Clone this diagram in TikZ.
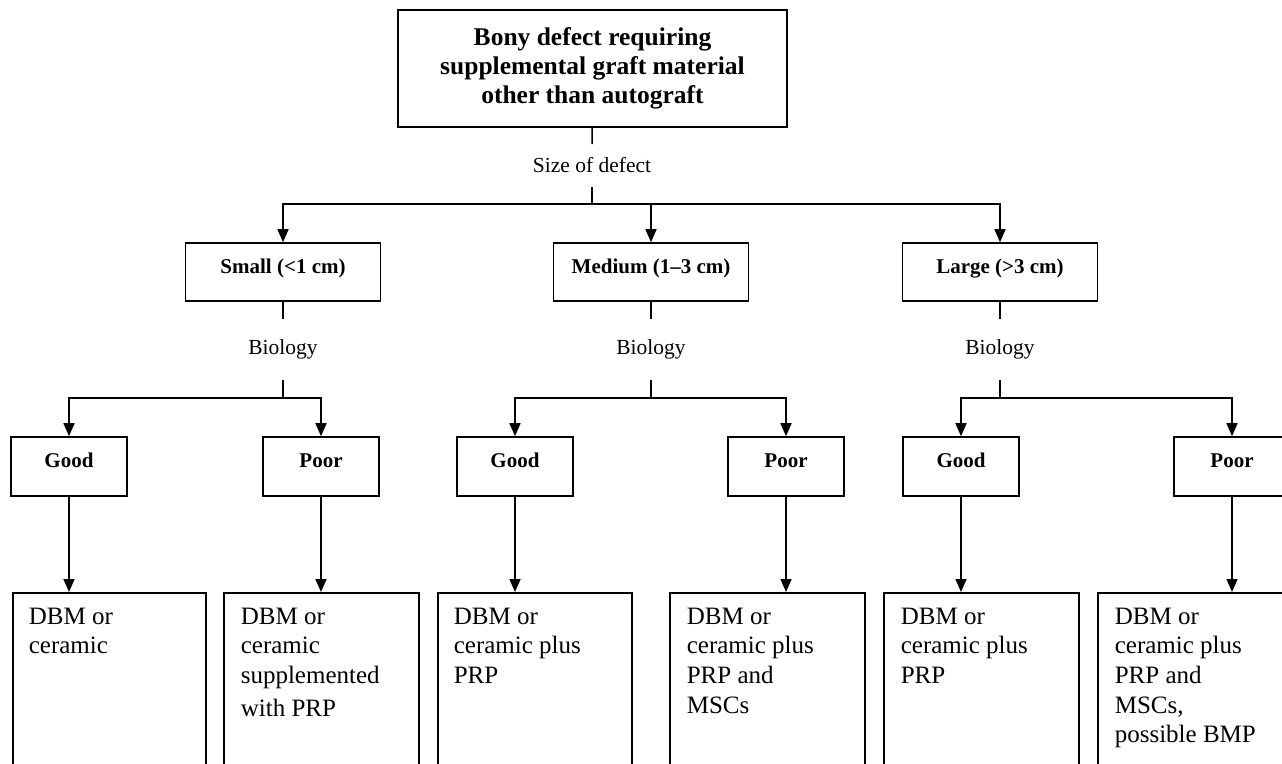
\documentclass[tikz,border=0pt]{standalone}
\usepackage{fontspec}
\setmainfont{Liberation Serif}
\usetikzlibrary{arrows.meta}
\begin{document}
\begin{tikzpicture}[x=1pt,y=-1pt,line width=1.6pt,
  box/.style={draw,line width=1.6pt,inner sep=0pt},
  sizebox/.style={box,minimum width=195pt,text height=30pt,text depth=28pt,font=\fontsize{21}{25}\selectfont\bfseries},
  bioboxst/.style={box,minimum width=116pt,text height=30pt,text depth=29pt,font=\fontsize{21}{25}\selectfont\bfseries},
  lbl/.style={inner sep=0pt,font=\fontsize{21.5}{25}\selectfont},
  resbox/.style={box,anchor=north west,minimum height=185pt},
  restext/.style={inner sep=0pt,anchor=north west,align=left,font=\fontsize{25}{29.7}\selectfont},
  arr/.style={-{Triangle[length=13pt,width=11pt]}}]
\useasboundingbox (0,0) rectangle (1282,763);
\fill[white] (0,0) rectangle (1282,763);
% top
\node[box,minimum width=389pt,minimum height=117pt,align=center,font=\fontsize{25.5}{29}\selectfont\bfseries] (top) at (592.5,68.5) {Bony defect requiring\\supplemental graft material\\other than autograft};
\node[lbl,minimum height=41pt] (size) at (592,165.5) {Size of defect};
\coordinate (j0) at (592,204);
% size boxes
\node[sizebox] (small) at (283,272) {Small (<1 cm)};
\node[sizebox] (medium) at (651,272) {Medium (1\textendash 3 cm)};
\node[sizebox] (large) at (1000,272) {Large (>3 cm)};
% biology labels
\node[lbl,minimum height=59pt] (bio1) at (283,349.5) {Biology};
\node[lbl,minimum height=59pt] (bio2) at (651,349.5) {Biology};
\node[lbl,minimum height=59pt] (bio3) at (1000,349.5) {Biology};
\coordinate (j1) at (283,398);
\coordinate (j2) at (651,398);
\coordinate (j3) at (1000,398);
% good / poor
\node[bioboxst] (g1) at (69,466.5) {Good};
\node[bioboxst] (p1) at (321,466.5) {Poor};
\node[bioboxst] (g2) at (515,466.5) {Good};
\node[bioboxst] (p2) at (786,466.5) {Poor};
\node[bioboxst] (g3) at (961,466.5) {Good};
\node[bioboxst] (p3) at (1232,466.5) {Poor};
% result boxes
\node[resbox,minimum width=193pt] (r1) at (12,592) {};
\node[resbox,minimum width=195pt] (r2) at (223,592) {};
\node[resbox,minimum width=194pt] (r3) at (437,592) {};
\node[resbox,minimum width=195pt] (r4) at (669,592) {};
\node[resbox,minimum width=195pt] (r5) at (883,592) {};
\node[resbox,minimum width=195pt] (r6) at (1097,592) {};
\node[restext] (t1) at (28,607) {DBM or\\ ceramic};
\node[restext] (t2) at (240,607) {DBM or\\ ceramic\\supplemented\\[3pt]with PRP};
\node[restext] (t3) at (453,607) {DBM or\\ ceramic plus\\PRP};
\node[restext] (t4) at (686,607) {DBM or\\ ceramic plus\\PRP and\\ MSCs};
\node[restext] (t5) at (900,607) {DBM or\\ ceramic plus\\PRP};
\node[restext] (t6) at (1114,607) {DBM or\\ ceramic plus\\PRP and\\ MSCs,\\possible BMP};
% connectors
\draw (top) -- (size);
\draw (size) -- (j0);
\draw[arr] (j0) -| (small);
\draw[arr] (j0) -| (medium);
\draw[arr] (j0) -| (large);
\draw (small) -- (bio1);
\draw (medium) -- (bio2);
\draw (large) -- (bio3);
\draw (bio1) -- (j1);
\draw (bio2) -- (j2);
\draw (bio3) -- (j3);
\draw[arr] (j1) -| (g1);
\draw[arr] (j1) -| (p1);
\draw[arr] (j2) -| (g2);
\draw[arr] (j2) -| (p2);
\draw[arr] (j3) -| (g3);
\draw[arr] (j3) -| (p3);
\draw[arr] (g1.south) -- (g1.south |- r1.north);
\draw[arr] (p1.south) -- (p1.south |- r2.north);
\draw[arr] (g2.south) -- (g2.south |- r3.north);
\draw[arr] (p2.south) -- (p2.south |- r4.north);
\draw[arr] (g3.south) -- (g3.south |- r5.north);
\draw[arr] (p3.south) -- (p3.south |- r6.north);
\end{tikzpicture}
\end{document}
